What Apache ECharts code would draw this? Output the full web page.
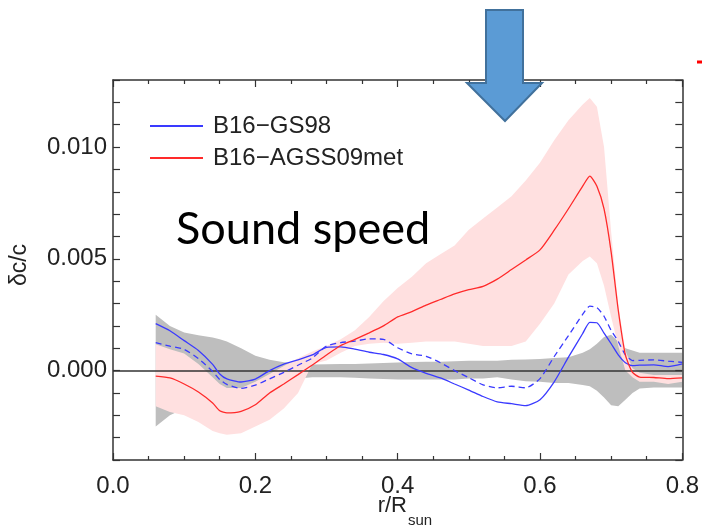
<!DOCTYPE html>
<html><head><meta charset="utf-8">
<script src="https://cdn.jsdelivr.net/npm/echarts@6/dist/echarts.min.js"></script>
<style>html,body{margin:0;padding:0;background:#fff}#c{width:702px;height:530px}</style>
</head><body><div id="c"></div>
<script>
// r / R_sun grid
const radius = [0.06,0.08,0.10,0.12,0.14,0.15,0.16,0.18,0.20,0.22,0.24,0.26,0.28,0.30,0.32,0.34,0.36,0.38,0.40,0.42,0.44,0.46,0.48,0.50,0.52,0.54,0.56,0.58,0.60,0.62,0.64,0.66,0.67,0.68,0.69,0.70,0.71,0.72,0.73,0.74,0.76,0.78,0.80];
// B16-GS98 (solid blue)
const gs98 = [0.0021,0.00178,0.00134,0.0009,0.00028,-0.00015,-0.00037,-0.00051,-0.00038,0.0,0.00029,0.00048,0.0007,0.00104,0.00106,0.00096,0.00082,0.00072,0.00052,0.00013,-0.00012,-0.00033,-0.0006,-0.00087,-0.00116,-0.0014,-0.00148,-0.00157,-0.0013,-0.0005,0.0006,0.00166,0.00216,0.00214,0.00168,0.0012,0.0007,0.00035,0.00022,0.00024,0.00026,0.00018,0.0003];
// dashed blue
const gs98Dashed = [0.00125,0.00109,0.00095,0.00054,-0.00004,-0.0004,-0.00062,-0.0008,-0.00065,-0.00037,-0.00008,0.00024,0.00056,0.0011,0.00125,0.00132,0.00142,0.0014,0.00102,0.00075,0.00064,0.00035,0.0,-0.00032,-0.00064,-0.00077,-0.0007,-0.00077,-0.00036,0.00063,0.00156,0.00252,0.00288,0.00282,0.00243,0.0018,0.0013,0.0007,0.00045,0.00046,0.00048,0.00042,0.00037];
// B16-AGSS09met (red)
const agss09met = [-0.00025,-0.00033,-0.0006,-0.00096,-0.00145,-0.0018,-0.00189,-0.00182,-0.00153,-0.001,-0.0006,-0.00018,0.00025,0.0007,0.00112,0.0014,0.00169,0.002,0.0024,0.00264,0.00293,0.00318,0.00343,0.00362,0.00377,0.00409,0.00452,0.00495,0.0054,0.00628,0.00724,0.00825,0.0087,0.00825,0.00723,0.0053,0.0027,0.0007,-0.00008,-0.00029,-0.00031,-0.00036,-0.00033];
// pink band (AGSS09met uncertainty)
const pinkUpper = [0.00118,0.00095,0.00077,0.0003,-0.0003,-0.0006,-0.00078,-0.00078,-0.0005,-0.00015,0.0002,0.00055,0.00085,0.0011,0.0014,0.0018,0.0024,0.0031,0.0037,0.0042,0.0048,0.0052,0.0056,0.0063,0.0068,0.0073,0.0078,0.0085,0.0093,0.0103,0.0112,0.0119,0.0122,0.0118,0.0100,0.0062,0.0029,0.0009,0.0001,-0.0001,-0.0002,-0.0002,-0.0002];
const pinkLower = [-0.0016,-0.00185,-0.002,-0.0023,-0.0027,-0.0028,-0.00287,-0.0028,-0.0025,-0.0022,-0.0017,-0.001,0.0003,0.00045,0.0008,0.0011,0.0012,0.00125,0.0012,0.00125,0.0013,0.0013,0.0013,0.0012,0.0011,0.0011,0.0011,0.0013,0.0021,0.0030,0.0043,0.0049,0.0051,0.0048,0.0038,0.0024,0.0011,0.0,-0.0003,-0.0005,-0.0005,-0.0006,-0.0005];
// gray band (GS98 / helioseismic uncertainty)
const grayUpper = [0.0025,0.002,0.0017,0.00158,0.00148,0.0014,0.0013,0.001,0.00066,0.00048,0.00037,0.0003,0.00027,0.00028,0.0003,0.0003,0.00032,0.00034,0.00036,0.00038,0.0004,0.0004,0.00042,0.00044,0.00044,0.00044,0.00048,0.0005,0.00052,0.00056,0.0006,0.0008,0.00095,0.0012,0.0015,0.0016,0.0013,0.001,0.0009,0.0008,0.0008,0.0008,0.0008];
const grayLower = [-0.0025,-0.002,-0.0017,-0.0016,-0.0015,-0.0014,-0.0013,-0.001,-0.0007,-0.0005,-0.0004,-0.00035,-0.0003,-0.0003,-0.0003,-0.00032,-0.00035,-0.00038,-0.0004,-0.0004,-0.0004,-0.0004,-0.0004,-0.00035,-0.00035,-0.0003,-0.0004,-0.00048,-0.0005,-0.00055,-0.00055,-0.00065,-0.0007,-0.0009,-0.0012,-0.00155,-0.0016,-0.0013,-0.001,-0.0008,-0.00076,-0.00076,-0.00076];
const yTickLabels = [0, 0.005, 0.010];

const FONT = 'Liberation Sans';
const pts = a => radius.map((r, i) => [r, a[i]]);
const SM = 0.2;

function bandSeries(name, lower, upper, color, z) {
  return {
    name: name, type: 'custom', z: z, silent: true,
    data: radius.map((r, i) => [r, lower[i], upper[i]]),
    encode: { x: 0, y: [1, 2] },
    renderItem: function (params, api) {
      if (params.dataIndex !== 0) return null;
      const top = radius.map((r, i) => api.coord([r, upper[i]]));
      const bot = radius.map((r, i) => api.coord([r, lower[i]])).reverse();
      return { type: 'polygon', shape: { points: top.concat(bot) }, style: { fill: color, stroke: null } };
    }
  };
}

const tickStyle = { color: '#333', width: 1.2 };
const axisCommon = {
  axisLine: { onZero: false, lineStyle: { color: '#333', width: 1.5 } },
  axisTick: { inside: true, length: 7, lineStyle: tickStyle },
  splitLine: { show: false },
  z: 10
};

const chart = echarts.init(document.getElementById('c'));
chart.setOption({
  animation: false,
  backgroundColor: '#fff',
  grid: { left: 113, right: 19, top: 80, bottom: 70 },
  xAxis: [
    Object.assign({}, axisCommon, {
      type: 'value', position: 'bottom', min: 0, max: 0.8, interval: 0.2,
      minorTick: { show: true, splitNumber: 4, length: 4, lineStyle: tickStyle },
      axisLabel: { margin: 14, fontFamily: FONT, fontSize: 24, color: '#222', formatter: v => v.toFixed(1) }
    }),
    Object.assign({}, axisCommon, {
      type: 'value', position: 'top', min: 0, max: 0.8, interval: 0.2,
      minorTick: { show: true, splitNumber: 4, length: 4, lineStyle: tickStyle },
      axisLabel: { show: false }
    })
  ],
  yAxis: [
    Object.assign({}, axisCommon, {
      type: 'value', position: 'left', min: -0.004, max: 0.013, interval: 0.001,
      axisLabel: { margin: 6, fontFamily: FONT, fontSize: 24, color: '#222', customValues: yTickLabels, formatter: v => v.toFixed(3) }
    }),
    Object.assign({}, axisCommon, {
      type: 'value', position: 'right', min: -0.004, max: 0.013, interval: 0.001,
      axisLabel: { show: false }
    })
  ],
  legend: {
    data: ['B16−GS98', 'B16−AGSS09met'],
    orient: 'vertical', left: 144, top: 109,
    itemWidth: 53, itemHeight: 12, itemGap: 8,
    itemStyle: { opacity: 0 },
    textStyle: { fontFamily: FONT, fontSize: 24, color: '#222', padding: [0, 0, 0, 5] }
  },
  series: [
    bandSeries('grayBand', grayLower, grayUpper, '#BEBEBE', 1),
    bandSeries('pinkBand', pinkLower, pinkUpper, '#FFE0E0', 2),
    { name: 'zero', type: 'line', data: [], symbol: 'none', z: 3,
      markLine: { silent: true, symbol: 'none', label: { show: false }, z: 3,
        lineStyle: { color: '#333', width: 1.5, type: 'solid' }, data: [{ yAxis: 0 }] } },
    { name: 'B16−GS98 dashed', type: 'line', data: pts(gs98Dashed), symbol: 'none', smooth: SM,
      color: '#3a3aff', lineStyle: { color: '#3a3aff', width: 1.3, type: [6, 4] }, z: 6 },
    { name: 'B16−GS98', type: 'line', data: pts(gs98), symbol: 'none', smooth: SM,
      color: '#3a3aff', lineStyle: { color: '#3a3aff', width: 1.3 }, z: 6 },
    { name: 'B16−AGSS09met', type: 'line', data: pts(agss09met), symbol: 'none', smooth: SM,
      color: '#ff2a2a', lineStyle: { color: '#ff2a2a', width: 1.3 }, z: 6 }
  ],
  graphic: [
    { type: 'text', x: 176, y: 229, z: 50,
      style: { text: 'Sound speed', fontFamily: 'Lato', fontSize: 45, fill: '#000', align: 'left', verticalAlign: 'middle' } },
    { type: 'text', x: 20, y: 265, rotation: Math.PI / 2, z: 50,
      style: { text: 'δc/c', fontFamily: FONT, fontSize: 23, fill: '#222', align: 'center', verticalAlign: 'middle' } },
    { type: 'text', x: 407, y: 506, z: 50,
      style: { text: 'r/R', fontFamily: FONT, fontSize: 22, fill: '#222', align: 'right', verticalAlign: 'middle' } },
    { type: 'text', x: 408, y: 521, z: 50,
      style: { text: 'sun', fontFamily: FONT, fontSize: 15, fill: '#222', align: 'left', verticalAlign: 'middle' } },
    { type: 'polygon', z: 100,
      shape: { points: [[486, 10], [523, 10], [523, 83], [542, 83], [505, 121], [467, 83], [486, 83]] },
      style: { fill: '#5B9BD5', stroke: '#41719C', lineWidth: 2 } },
    { type: 'text', x: 510, y: 0, z: 100,
      style: { text: 'p', fontFamily: 'Lato', fontSize: 42, fill: '#000', align: 'left', verticalAlign: 'bottom' } },
    { type: 'text', x: 645, y: 0, z: 100,
      style: { text: 'g', fontFamily: 'Lato', fontSize: 42, fill: '#000', align: 'left', verticalAlign: 'bottom' } },
    { type: 'line', z: 100, shape: { x1: 697, y1: 62, x2: 702, y2: 62 }, style: { stroke: '#ff0000', lineWidth: 3 } }
  ]
});
</script>
</body></html>
